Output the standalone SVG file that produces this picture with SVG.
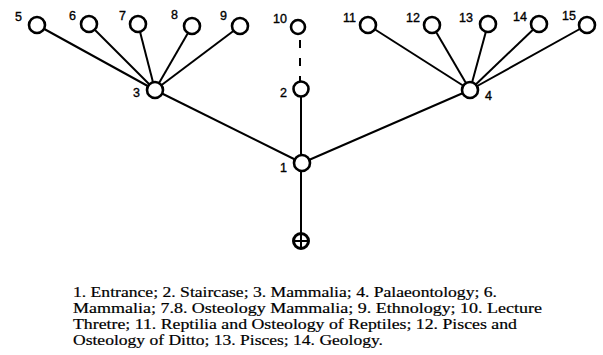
<svg xmlns="http://www.w3.org/2000/svg" width="603" height="355" viewBox="0 0 603 355">
<style>
.n{fill:#fff;stroke:#000;stroke-width:2.6}
.e{stroke:#000;stroke-width:2;fill:none}
.l{font-family:"Liberation Sans",Arial,sans-serif;font-size:12.5px;fill:#000;stroke:#000;stroke-width:0.35}
.t{font-family:"Liberation Serif","Times New Roman",serif;font-size:15px;fill:#000;stroke:#000;stroke-width:0.2}
</style>
<rect width="603" height="355" fill="#fff"/>
<g id="connectors">
<line class="e" x1="155" y1="90" x2="37" y2="25"/>
<line class="e" x1="155" y1="90" x2="89" y2="24"/>
<line class="e" x1="155" y1="90" x2="138" y2="24"/>
<line class="e" x1="155" y1="90" x2="192" y2="26"/>
<line class="e" x1="155" y1="90" x2="240" y2="26"/>
<line class="e" x1="470" y1="90" x2="368" y2="25"/>
<line class="e" x1="470" y1="90" x2="432" y2="25"/>
<line class="e" x1="470" y1="90" x2="488" y2="24"/>
<line class="e" x1="470" y1="90" x2="539" y2="24"/>
<line class="e" x1="470" y1="90" x2="587" y2="25"/>
<line class="e" x1="302" y1="163" x2="155" y2="90"/>
<line class="e" x1="302" y1="163" x2="470" y2="90"/>
<line class="e" x1="301" y1="163" x2="301" y2="89"/>
<line class="e" x1="300" y1="40" x2="300" y2="82" stroke-dasharray="8,10"/>
<line class="e" x1="301" y1="163" x2="301" y2="240"/>
</g>
<g id="n1"><circle class="n" cx="302" cy="163" r="8"/><text class="l" x="280" y="172">1</text></g>
<g id="n2"><circle class="n" cx="301" cy="89" r="7.5"/><text class="l" x="280" y="97">2</text></g>
<g id="n3"><circle class="n" cx="155" cy="90" r="8"/><text class="l" x="133" y="97">3</text></g>
<g id="n4"><circle class="n" cx="470" cy="90" r="8"/><text class="l" x="485" y="100">4</text></g>
<g id="n5"><circle class="n" cx="37" cy="25" r="8"/><text class="l" x="15" y="21">5</text></g>
<g id="n6"><circle class="n" cx="89" cy="24" r="8"/><text class="l" x="69" y="20">6</text></g>
<g id="n7"><circle class="n" cx="138" cy="24" r="8"/><text class="l" x="119" y="20">7</text></g>
<g id="n8"><circle class="n" cx="192" cy="26" r="8"/><text class="l" x="171" y="19">8</text></g>
<g id="n9"><circle class="n" cx="240" cy="26" r="8"/><text class="l" x="220" y="20">9</text></g>
<g id="n10"><circle class="n" cx="298" cy="27" r="7"/><text class="l" x="273" y="23">10</text></g>
<g id="n11"><circle class="n" cx="368" cy="25" r="8"/><text class="l" x="343" y="22">11</text></g>
<g id="n12"><circle class="n" cx="432" cy="25" r="8"/><text class="l" x="406" y="22">12</text></g>
<g id="n13"><circle class="n" cx="488" cy="24" r="8"/><text class="l" x="459" y="22">13</text></g>
<g id="n14"><circle class="n" cx="539" cy="24" r="8"/><text class="l" x="513" y="21">14</text></g>
<g id="n15"><circle class="n" cx="587" cy="25" r="8"/><text class="l" x="562" y="20">15</text></g>
<g id="entrance"><circle cx="301" cy="241" r="7.5" fill="#fff" stroke="#000" stroke-width="3"/><line x1="294" y1="241" x2="308" y2="241" stroke="#000" stroke-width="2"/><line x1="301" y1="234" x2="301" y2="248" stroke="#000" stroke-width="2"/></g>
<g id="caption">
<text class="t" x="73" y="297" textLength="424" lengthAdjust="spacingAndGlyphs">1. Entrance; 2. Staircase; 3. Mammalia; 4. Palaeontology; 6.</text>
<text class="t" x="73" y="313" textLength="469" lengthAdjust="spacingAndGlyphs">Mammalia; 7.8. Osteology Mammalia; 9. Ethnology; 10. Lecture</text>
<text class="t" x="73" y="329" textLength="444" lengthAdjust="spacingAndGlyphs">Thretre; 11. Reptilia and Osteology of Reptiles; 12. Pisces and</text>
<text class="t" x="73" y="345" textLength="310" lengthAdjust="spacingAndGlyphs">Osteology of Ditto; 13. Pisces; 14. Geology.</text>
</g>
</svg>
